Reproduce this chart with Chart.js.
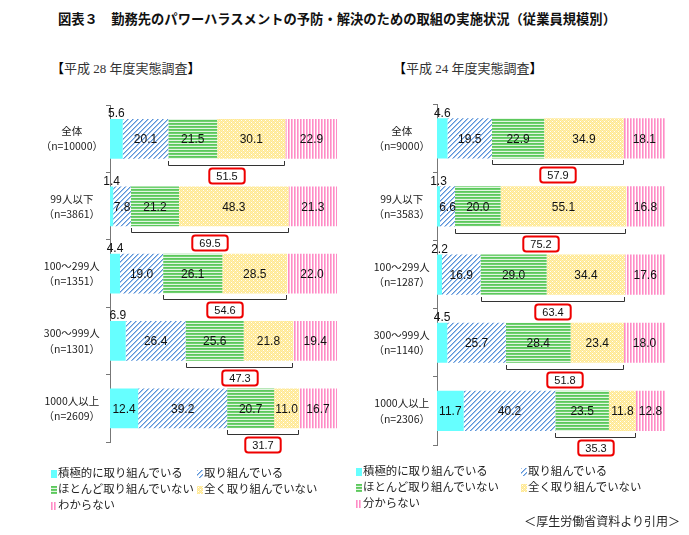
<!DOCTYPE html>
<html lang="ja">
<head>
<meta charset="utf-8">
<script src="https://cdn.jsdelivr.net/npm/chart.js@4.4.1/dist/chart.umd.min.js"></script>
<style>
  html, body { margin: 0; padding: 0; background: #fff; }
  #page { position: relative; width: 689px; height: 535px; overflow: hidden; font-family: "Noto Sans CJK JP", "Noto Sans", sans-serif; color: #222; }
  .abs { position: absolute; white-space: nowrap; }
  #title { left: 58px; top: 9px; font-size: 13.3px; font-weight: bold; color: #111; }
  .sub { top: 58px; font-size: 13px; font-family: "Liberation Serif", "Noto Sans CJK JP", serif; color: #333; }
  .sub b { color: #000; font-weight: normal; }
  .lg { font-size: 11.4px; line-height: 16px; color: #222; }
  .lg canvas { display: inline-block; vertical-align: -1px; margin-right: 1px; }
  #src { right: 9px; top: 512px; font-size: 12px; color: #222; }
  .wrap { position: absolute; }
</style>
</head>
<body>
<div id="page">
  <div id="title" class="abs">図表３　勤務先のパワーハラスメントの予防・解決のための取組の実施状況（従業員規模別）</div>
  <div class="abs sub" style="left:51px"><b>【</b>平成 28 年度実態調査<b>】</b></div>
  <div class="abs sub" style="left:393px"><b>【</b>平成 24 年度実態調査<b>】</b></div>
  <div class="wrap" style="left:0px;top:87px;width:345px;height:383px"><canvas id="c28"></canvas></div>
  <div class="wrap" style="left:345px;top:86px;width:344px;height:383px"><canvas id="c24"></canvas></div>
  <div id="lg28"></div>
  <div id="lg24"></div>
  <div id="src" class="abs">＜厚生労働省資料より引用＞</div>
</div>
<script>
// data (%)
var seriesNames28 = ['積極的に取り組んでいる', '取り組んでいる', 'ほとんど取り組んでいない', '全く取り組んでいない', 'わからない'];
var seriesNames24 = ['積極的に取り組んでいる', '取り組んでいる', 'ほとんど取り組んでいない', '全く取り組んでいない', '分からない'];

var categories28 = [['全体', '（n=10000）'], ['99人以下', '（n=3861）'], ['100～299人', '（n=1351）'], ['300～999人', '（n=1301）'], ['1000人以上', '（n=2609）']];
var active28 = [5.6, 1.4, 4.4, 6.9, 12.4];
var doing28 = [20.1, 7.8, 19.0, 26.4, 39.2];
var rarely28 = [21.5, 21.2, 26.1, 25.6, 20.7];
var none28 = [30.1, 48.3, 28.5, 21.8, 11.0];
var unknown28 = [22.9, 21.3, 22.0, 19.4, 16.7];
var notDoing28 = [51.5, 69.5, 54.6, 47.3, 31.7];

var categories24 = [['全体', '（n=9000）'], ['99人以下', '（n=3583）'], ['100～299人', '（n=1287）'], ['300～999人', '（n=1140）'], ['1000人以上', '（n=2306）']];
var active24 = [4.6, 1.3, 2.2, 4.5, 11.7];
var doing24 = [19.5, 6.6, 16.9, 25.7, 40.2];
var rarely24 = [22.9, 20.0, 29.0, 28.4, 23.5];
var none24 = [34.9, 55.1, 34.4, 23.4, 11.8];
var unknown24 = [18.1, 16.8, 17.6, 18.0, 12.8];
var notDoing24 = [57.9, 75.2, 63.4, 51.8, 35.3];

! function() {
    "use strict";

    // pixel tiles for the hatch fills
    function tile(w, h, fn) {
        var c = document.createElement('canvas');
        c.width = w; c.height = h;
        var g = c.getContext('2d');
        for (var x = 0; x < w; x++)
            for (var y = 0; y < h; y++) {
                var col = fn(x, y);
                if (col) { g.fillStyle = col; g.fillRect(x, y, 1, 1); }
            }
        return c;
    }
    var tiles = [
        tile(1, 1, function() { return '#66FFFF'; }),
        tile(5, 5, function(x, y) { var k = (x + y) % 5; return k === 4 ? '#5B93D8' : k === 0 ? '#A3C4EC' : '#FFFFFF'; }),
        tile(1, 3, function(x, y) { return y === 0 ? '#5CC85C' : y === 1 ? '#70D070' : '#E2F5E2'; }),
        tile(4, 4, function(x, y) { return ((x === 1 && y === 1) || (x === 3 && y === 3)) ? '#FFFFFF' : (x + y) % 2 ? '#FFE890' : '#FFEFB0'; }),
        tile(3, 1, function(x) { return x === 0 ? '#FF8CC6' : x === 1 ? '#FFB8DC' : '#FFFFFF'; })
    ];
    var pctx = document.createElement('canvas').getContext('2d');
    var fills = tiles.map(function(t) { return pctx.createPattern(t, 'repeat'); });

    var labelPlugin = {
        id: 'segLabels',
        afterDatasetsDraw: function(chart) {
            var ctx = chart.ctx;
            ctx.save();
            ctx.fillStyle = '#111';
            ctx.font = '12px "Liberation Sans", Arial, sans-serif';
            ctx.textAlign = 'center';
            chart.data.datasets.forEach(function(ds, i) {
                var meta = chart.getDatasetMeta(i);
                meta.data.forEach(function(bar, j) {
                    var v = ds.data[j];
                    var cx = (bar.x + bar.base) / 2;
                    if (i === 0 && v < 10) {
                        ctx.textBaseline = 'bottom';
                        ctx.fillText(v.toFixed(1), cx, bar.y - bar.height / 2 + 1);
                    } else {
                        ctx.textBaseline = 'middle';
                        ctx.fillText(v.toFixed(1), cx, bar.y + 1);
                    }
                });
            });
            // brackets over "ほとんど" + "全く" with the total in a red box
            var totals = chart.options.plugins.segLabels.totals;
            var m2 = chart.getDatasetMeta(2), m3 = chart.getDatasetMeta(3);
            ctx.font = '11px "Liberation Sans", Arial, sans-serif';
            m2.data.forEach(function(bar, j) {
                var x0 = Math.round(bar.base) + 0.5, x1 = Math.round(m3.data[j].x) - 0.5;
                var yb = Math.round(bar.y + bar.height / 2);
                var yl = yb + 6.5;
                ctx.strokeStyle = '#333';
                ctx.lineWidth = 1;
                ctx.beginPath();
                ctx.moveTo(x0, yb + 2); ctx.lineTo(x0, yl); ctx.lineTo(x1, yl); ctx.lineTo(x1, yb + 2);
                ctx.stroke();
                var txt = totals[j].toFixed(1);
                var w = ctx.measureText(txt).width + 14, h = 15;
                var cx = Math.round((x0 + x1) / 2), top = yl + 3;
                ctx.strokeStyle = '#EE0000';
                ctx.lineWidth = 2;
                ctx.beginPath();
                ctx.roundRect(cx - w / 2, top, w, h, 3);
                ctx.fillStyle = '#fff';
                ctx.fill();
                ctx.stroke();
                ctx.fillStyle = '#111';
                ctx.textBaseline = 'middle';
                ctx.fillText(txt, cx, top + h / 2 + 1);
            });
            ctx.restore();
        }
    };

    function build(id, cats, series, names, totals, axisW, pad) {
        return new Chart(document.getElementById(id), {
            type: 'bar',
            data: {
                labels: cats,
                datasets: series.map(function(s, i) {
                    return { label: names[i], data: s, backgroundColor: fills[i], borderWidth: 0, barPercentage: 0.59, categoryPercentage: 1 };
                })
            },
            options: {
                indexAxis: 'y',
                responsive: true,
                maintainAspectRatio: false,
                animation: false,
                layout: { padding: pad },
                scales: {
                    x: { display: false, stacked: true, min: 0, max: 100 },
                    y: {
                        stacked: true,
                        afterFit: function(s) { s.width = axisW; },
                        grid: { drawOnChartArea: false, tickLength: 4, color: '#777', offset: true },
                        border: { color: '#777' },
                        ticks: { padding: 3, crossAlign: 'center', color: '#222', font: { family: '"Noto Sans CJK JP", sans-serif', size: 10.5, lineHeight: 1.45 } }
                    }
                },
                plugins: { legend: { display: false }, tooltip: { enabled: false }, segLabels: { totals: totals } }
            },
            plugins: [labelPlugin]
        });
    }

    // top padding comes from the two-line tick labels (~18px)
    build('c28', categories28, [active28, doing28, rarely28, none28, unknown28], seriesNames28, notDoing28, 110, { left: 0, right: 8, top: 0, bottom: 28 });
    build('c24', categories24, [active24, doing24, rarely24, none24, unknown24], seriesNames24, notDoing24, 92, { left: 0, right: 24, top: 0, bottom: 24 });

    // html legends with small pattern swatches
    function legend(id, names, left, col2, top) {
        var box = document.getElementById(id);
        var pos = [[0, 0], [col2, 0], [0, 1], [col2, 1], [0, 2]];
        names.forEach(function(n, i) {
            var d = document.createElement('div');
            d.className = 'abs lg';
            d.style.left = (left + pos[i][0]) + 'px';
            d.style.top = (top + pos[i][1] * 16) + 'px';
            var sw = document.createElement('canvas');
            sw.width = 6; sw.height = 8;
            var g = sw.getContext('2d');
            g.fillStyle = fills[i];
            g.fillRect(0, 0, 6, 8);
            d.appendChild(sw);
            d.appendChild(document.createTextNode(n));
            box.appendChild(d);
        });
    }
    legend('lg28', seriesNames28, 51, 146, 464);
    legend('lg24', seriesNames24, 356, 165, 462);
}();
</script>
</body>
</html>
